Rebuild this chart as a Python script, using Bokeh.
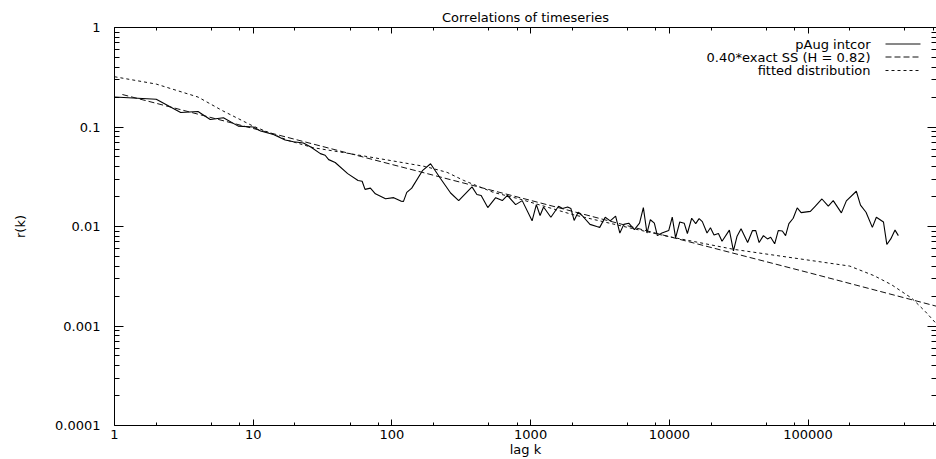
from bokeh.plotting import figure
from bokeh.models import Range1d, LogAxis, FixedTicker, CustomJSTickFormatter, Label, Arrow
from bokeh.embed import file_html
from bokeh.resources import INLINE

# ---------------- data ----------------
title_text = "Correlations of timeseries"
x_label = "lag k"
y_label = "r(k)"

x_ticks = [1, 10, 100, 1000, 10000, 100000]
x_tick_labels = ["1", "10", "100", "1000", "10000", "100000"]
y_ticks = [1, 0.1, 0.01, 0.001, 0.0001]
y_tick_labels = ["1", "0.1", "0.01", "0.001", "0.0001"]

legend_labels = ["pAug intcor", "0.40*exact SS (H = 0.82)", "fitted distribution"]

# series 1: pAug intcor (solid)
lag_k = [1, 2, 3, 4, 4.9, 6.1, 7.8, 10, 11.3, 14, 17, 19.5, 23, 26, 30.5, 33, 35, 39, 48, 57,
         61, 64, 70, 76, 90, 103, 116, 121, 128, 139, 166, 190, 224, 265, 303, 378, 410, 440,
         491, 560, 625, 680, 780, 870, 1025, 1100, 1170, 1240, 1400, 1590, 1700, 1850, 1950,
         2060, 2200, 2350, 2680, 3000, 3150, 3450, 3750, 4100, 4400, 4700, 5100, 5600, 6100,
         6500, 6900, 7300, 7800, 8200, 8850, 9900, 10500, 11100, 11900, 12800, 13500, 14500,
         15500, 16400, 17300, 18700, 19800, 21000, 22600, 24000, 27100, 29000, 30800, 32900,
         36700, 39800, 42000, 44400, 47700, 51000, 53800, 57500, 61000, 65300, 68900, 72800,
         78200, 83600, 89200, 104000, 113000, 126000, 140000, 152000, 174000, 189000, 223000,
         239000, 262000, 291000, 311000, 350000, 370000, 395000, 424000, 448000]
r_k = [0.200, 0.190, 0.140, 0.143, 0.119, 0.124, 0.102, 0.100, 0.091, 0.084, 0.074, 0.071,
       0.069, 0.063, 0.054, 0.052, 0.047, 0.044, 0.034, 0.029, 0.0285, 0.0236, 0.0243, 0.0213,
       0.0190, 0.0195, 0.0180, 0.0178, 0.0220, 0.0243, 0.0364, 0.0427, 0.0304, 0.0217, 0.0182,
       0.0250, 0.0210, 0.0205, 0.0155, 0.0195, 0.0182, 0.0205, 0.0166, 0.0182, 0.0114, 0.0166,
       0.0129, 0.0157, 0.0124, 0.0160, 0.0152, 0.0157, 0.0152, 0.0115, 0.0139, 0.0129, 0.0105,
       0.0100, 0.0098, 0.0124, 0.0114, 0.0127, 0.0086, 0.0105, 0.0108, 0.0093, 0.0108, 0.0155,
       0.0086, 0.0117, 0.0108, 0.0081, 0.0086, 0.0091, 0.0124, 0.0077, 0.0111, 0.0108, 0.0085,
       0.0121, 0.0107, 0.0120, 0.0112, 0.0086, 0.0097, 0.0082, 0.0085, 0.0071, 0.0092, 0.0057,
       0.0080, 0.0095, 0.0069, 0.0091, 0.0091, 0.0069, 0.0081, 0.0075, 0.0078, 0.0067, 0.0091,
       0.0090, 0.0081, 0.0107, 0.0121, 0.0154, 0.0138, 0.0142, 0.0160, 0.0189, 0.0160, 0.0182,
       0.0137, 0.0181, 0.0226, 0.0164, 0.0139, 0.0098, 0.0124, 0.0111, 0.0066, 0.0075, 0.0092,
       0.0081]

# series 2: 0.40*exact SS (H = 0.82) (dashed)
ss_lag = [1.14, 10, 100, 1000, 10000, 100000, 844000]
ss_r = [0.212, 0.0966, 0.042, 0.0183, 0.0079, 0.00345, 0.00158]

# series 3: fitted distribution (dotted)
fit_lag = [1, 2, 4, 6, 10, 18, 27, 46, 98, 175, 250, 330, 540, 820, 2000, 5000, 10000,
           29000, 100000, 200000, 300000, 400000, 560000, 700000, 844000]
fit_r = [0.32, 0.27, 0.20, 0.146, 0.102, 0.073, 0.062, 0.055, 0.046, 0.040, 0.035, 0.029,
         0.022, 0.019, 0.0132, 0.0098, 0.0079, 0.0059, 0.0046, 0.0040, 0.0032, 0.0026,
         0.0019, 0.0014, 0.00105]

# ---------------- layout ----------------
FONT = "DejaVu Sans"
FRAME_W, FRAME_H = 822, 398

x_minor = [m * 10 ** d for d in range(0, 6) for m in (2, 5, 8)]
y_minor = [m * 10.0 ** d for d in range(-4, 0) for m in range(2, 10)]

p = figure(width=936, height=459, x_axis_type="log", y_axis_type="log",
           x_range=Range1d(1, 8.44e5), y_range=Range1d(1e-4, 1),
           output_backend="svg", toolbar_location=None,
           min_border_left=114, min_border_right=0, min_border_top=27, min_border_bottom=34)
p.grid.visible = False
p.outline_line_color = None
p.background_fill_color = "white"
p.border_fill_color = "white"

p.title.text = title_text
p.title.align = "center"
p.title.text_font = FONT
p.title.text_font_size = "13px"
p.title.text_font_style = "normal"
p.title.text_color = "black"
p.title.standoff = 5
p.title.offset = -2

fmt_code = """
for (let i = 0; i < vals.length; i++) {
  if (Math.abs(Math.log10(vals[i]) - Math.log10(tick)) < 1e-6) { return labels[i]; }
}
return "";
"""


def style_axis(ax, major_in, minor_in, show_labels, line=True):
    ax.axis_line_color = "black" if line else None
    ax.axis_line_width = 1
    ax.major_tick_in = major_in
    ax.major_tick_out = 0
    ax.minor_tick_in = minor_in
    ax.minor_tick_out = 0
    ax.major_tick_line_color = "black"
    ax.minor_tick_line_color = "black"
    if show_labels:
        ax.major_label_text_font = FONT
        ax.major_label_text_font_size = "13px"
        ax.major_label_text_color = "black"
    else:
        ax.major_label_text_font_size = "0px"
        ax.major_label_standoff = 0


xb = p.xaxis[0]
xb.ticker = FixedTicker(ticks=x_ticks, minor_ticks=x_minor)
xb.formatter = CustomJSTickFormatter(args=dict(vals=x_ticks, labels=x_tick_labels), code=fmt_code)
style_axis(xb, 6, 3, True)
xb.major_label_standoff = 4
xb.axis_label = x_label
xb.axis_label_text_font = FONT
xb.axis_label_text_font_size = "13px"
xb.axis_label_text_font_style = "normal"
xb.axis_label_text_color = "black"
xb.axis_label_standoff = 0

yl = p.yaxis[0]
yl.ticker = FixedTicker(ticks=y_ticks, minor_ticks=y_minor)
yl.formatter = CustomJSTickFormatter(args=dict(vals=y_ticks, labels=y_tick_labels), code=fmt_code)
style_axis(yl, 9, 5, True)
yl.major_label_standoff = 14
yl.axis_label = y_label
yl.axis_label_text_font = FONT
yl.axis_label_text_font_size = "13px"
yl.axis_label_text_font_style = "normal"
yl.axis_label_text_color = "black"
yl.axis_label_standoff = 24

xt = LogAxis(ticker=FixedTicker(ticks=x_ticks, minor_ticks=x_minor),
             formatter=CustomJSTickFormatter(code="return '';"))
style_axis(xt, 6, 3, False)
p.add_layout(xt, "above")

yr = LogAxis(ticker=FixedTicker(ticks=y_ticks, minor_ticks=y_minor),
             formatter=CustomJSTickFormatter(code="return '';"))
style_axis(yr, 9, 5, False, line=False)
p.add_layout(yr, "right")

# ---------------- series ----------------
p.line(lag_k, r_k, line_color="black", line_width=1.1)
p.line(ss_lag, ss_r, line_color="#111111", line_width=1, line_dash="6 3")
p.line(fit_lag, fit_r, line_color="#111111", line_width=1, line_dash="3 3")

# legend (gnuplot style: text right-aligned, sample line to the right)
dashes = ["solid", "6 3", "3 3"]
row_y = [FRAME_H - 16.5, FRAME_H - 29.5, FRAME_H - 43]
for lab, dash, yy in zip(legend_labels, dashes, row_y):
    p.add_layout(Label(x=756, y=yy, x_units="screen", y_units="screen", text=lab,
                       text_align="right", text_baseline="middle",
                       text_font=FONT, text_font_size="13px", text_color="black"))
    p.add_layout(Arrow(start=None, end=None, x_start=771, y_start=yy, x_end=806, y_end=yy,
                       start_units="screen", end_units="screen",
                       line_color="#111111", line_width=1, line_dash=dash))

open("out.html", "w").write(file_html(p, INLINE))
